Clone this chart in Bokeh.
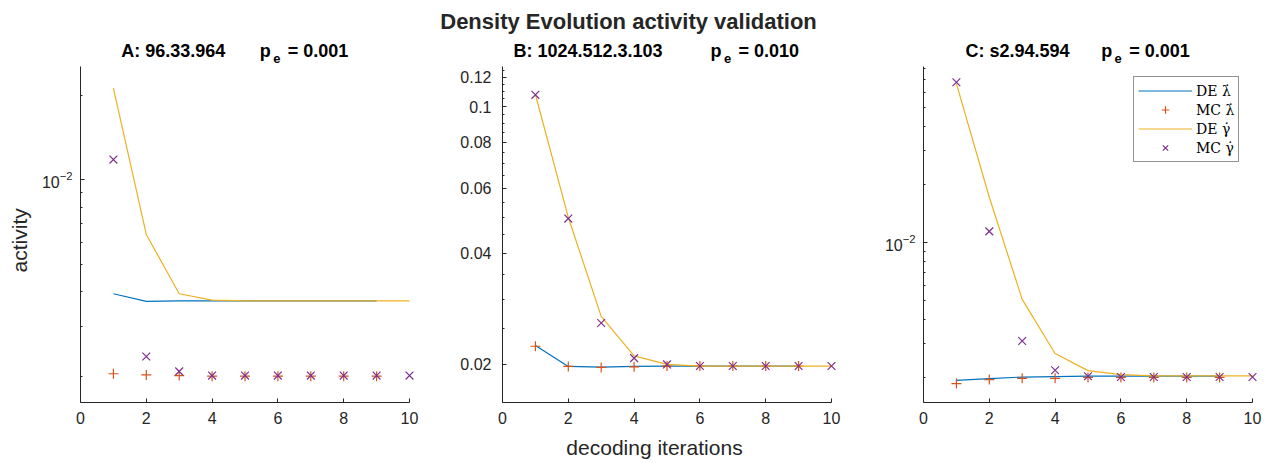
from bokeh.plotting import figure
from bokeh.models import Range1d, FixedTicker, CustomJSTickFormatter
from bokeh.core.properties import value
from bokeh.layouts import row, column
from bokeh.embed import file_html
from bokeh.resources import INLINE

# ---------------- data ----------------
iters_lam = [1, 2, 3, 4, 5, 6, 7, 8, 9]
iters_gam = [1, 2, 3, 4, 5, 6, 7, 8, 9, 10]

# Panel A: 96.33.964, p_e = 0.001
de_lam_A = [0.00393, 0.00369, 0.00371, 0.00371, 0.00371, 0.00371, 0.00371, 0.00371, 0.00371]
mc_lam_A = [0.00204, 0.00202, 0.00201, 0.00200, 0.00200, 0.00200, 0.00200, 0.00200, 0.00200]
de_gam_A = [0.0212, 0.00639, 0.00393, 0.00373, 0.00371, 0.00371, 0.00371, 0.00371, 0.00371, 0.00371]
mc_gam_A = [0.0118, 0.00235, 0.00208, 0.00201, 0.00201, 0.00201, 0.00201, 0.00201, 0.00201, 0.00201]

# Panel B: 1024.512.3.103, p_e = 0.010
de_lam_B = [0.0225, 0.01975, 0.01967, 0.01975, 0.0198, 0.0198, 0.0198, 0.0198, 0.0198]
mc_lam_B = [0.0224, 0.01975, 0.01963, 0.0197, 0.0198, 0.0198, 0.0198, 0.0198, 0.0198]
de_gam_B = [0.1078, 0.0501, 0.0270, 0.0211, 0.0200, 0.0198, 0.0198, 0.0198, 0.0198, 0.0198]
mc_gam_B = [0.1076, 0.0497, 0.0259, 0.0208, 0.0200, 0.0198, 0.0198, 0.0198, 0.0198, 0.0198]

# Panel C: s2.94.594, p_e = 0.001
de_lam_C = [0.00193, 0.00197, 0.00201, 0.00202, 0.00203, 0.00203, 0.00203, 0.00203, 0.00203]
mc_lam_C = [0.00186, 0.00195, 0.00198, 0.00198, 0.00200, 0.00200, 0.00200, 0.00200, 0.00200]
de_gam_C = [0.0667, 0.0172, 0.00508, 0.00266, 0.00217, 0.00207, 0.00204, 0.00204, 0.00204, 0.00204]
mc_gam_C = [0.0679, 0.01144, 0.00309, 0.00218, 0.00203, 0.00201, 0.00201, 0.00201, 0.00201, 0.00201]

x_ticks = [0, 2, 4, 6, 8, 10]
ticks_A = [0.01]
minor_A = [0.002, 0.003, 0.004, 0.005, 0.006, 0.007, 0.008, 0.009, 0.02]
ticks_B = [0.02, 0.04, 0.06, 0.08, 0.1, 0.12]
minor_B = [0.025, 0.03, 0.035, 0.045, 0.05, 0.055, 0.065, 0.07, 0.075, 0.085,
           0.09, 0.095, 0.105, 0.11, 0.115, 0.125]
ticks_C = [0.01]
minor_C = [0.002, 0.003, 0.004, 0.005, 0.006, 0.007, 0.008, 0.009,
           0.02, 0.03, 0.04, 0.05, 0.06, 0.07, 0.08]

main_title = "Density Evolution activity validation"
names = ["A: 96.33.964", "B: 1024.512.3.103", "C: s2.94.594"]
pe_vals = ["= 0.001", "= 0.010", "= 0.001"]
legend_labels = ["DE \u03bb\u0307", "MC \u03bb\u0307", "DE \u03b3\u0307", "MC \u03b3\u0307"]
x_label = "decoding iterations"
y_label = "activity"

# ---------------- style / layout ----------------
BLUE, ORANGE, YELLOW, PURPLE = "#0072BD", "#D95319", "#EDB120", "#7E2F8E"
AX = "#262626"
FONT = "Liberation Sans"
FRAME_W, FRAME_H = 339, 336
X_END = 10 + 10 / 32.9
HEAD_H = 66
TOTAL_W = 1266
NB = "\u00a0"


def make_fig(yr, ticks, minor, left, right, standoff):
    p = figure(output_backend="svg", toolbar_location=None, y_axis_type="log",
               x_range=Range1d(0, X_END), y_range=Range1d(*yr),
               frame_width=FRAME_W, frame_height=FRAME_H,
               min_border_left=left, min_border_right=right,
               min_border_top=0, min_border_bottom=59)
    p.outline_line_color = None
    p.grid.visible = False
    p.background_fill_color = "white"
    p.border_fill_color = "white"
    xa, ya = p.xaxis[0], p.yaxis[0]
    xa.ticker = FixedTicker(ticks=x_ticks, minor_ticks=[])
    xa.bounds = (0, 10)
    ya.ticker = FixedTicker(ticks=ticks, minor_ticks=minor)
    for a in (xa, ya):
        a.axis_line_color = AX
        a.axis_line_width = 1
        a.major_tick_line_color = AX
        a.minor_tick_line_color = AX
        a.major_tick_in = 4
        a.major_tick_out = 0
        a.minor_tick_in = 2
        a.minor_tick_out = 0
        a.major_label_text_font = FONT
        a.major_label_text_font_size = "16px"
        a.major_label_text_color = AX
        a.axis_label_text_font = FONT
        a.axis_label_text_font_size = "21px"
        a.axis_label_text_font_style = "normal"
        a.axis_label_text_color = AX
    xa.major_label_standoff = 9
    ya.major_label_standoff = standoff
    return p


def draw(p, dl, ml, dg, mg, legend=False):
    kw = (lambda i: {"legend_label": legend_labels[i]}) if legend else (lambda i: {})
    p.line(iters_lam, dl, line_color=BLUE, line_width=1.2, **kw(0))
    p.scatter(iters_lam, ml, marker="cross", size=10, line_color=ORANGE, line_width=1.2, **kw(1))
    p.line(iters_gam, dg, line_color=YELLOW, line_width=1.2, **kw(2))
    p.scatter(iters_gam, mg, marker="x", size=11, line_color=PURPLE, line_width=1.2, **kw(3))


pA = make_fig((0.001612, 0.0253), ticks_A, minor_A, 80, 20, 8)
pB = make_fig((0.01577, 0.1284), ticks_B, minor_B, 63, 20, 11)
pC = make_fig((0.001483, 0.0819), ticks_C, minor_C, 62, 4, 8)
pB.yaxis[0].formatter = CustomJSTickFormatter(code="return (Math.round(tick*1000)/1000).toString()")

draw(pA, de_lam_A, mc_lam_A, de_gam_A, mc_gam_A)
draw(pB, de_lam_B, mc_lam_B, de_gam_B, mc_gam_B)
draw(pC, de_lam_C, mc_lam_C, de_gam_C, mc_gam_C, legend=True)

pA.yaxis[0].axis_label = y_label + NB * 2
pA.yaxis[0].axis_label_standoff = 8
pB.xaxis[0].axis_label = x_label + NB * 6
pB.xaxis[0].axis_label_standoff = 9

leg = pC.legend[0]
leg.location = (210, 240)
leg.border_line_color = AX
leg.border_line_width = 1
leg.background_fill_color = "white"
leg.background_fill_alpha = 1
leg.padding = 4
leg.spacing = 0
leg.margin = 0
leg.glyph_width = 54
leg.glyph_height = 19
leg.label_height = 19
leg.label_standoff = 4
leg.label_text_font = "DejaVu Serif"
leg.label_text_font_size = "14px"
leg.label_text_color = "#000000"

# ---------------- header (titles) ----------------
head = figure(output_backend="svg", toolbar_location=None,
              x_range=Range1d(0, TOTAL_W), y_range=Range1d(0, HEAD_H),
              frame_width=TOTAL_W, frame_height=HEAD_H,
              min_border=0, x_axis_location=None, y_axis_location=None)
head.outline_line_color = None
head.grid.visible = False
head.background_fill_color = "white"
head.border_fill_color = "white"

# main title
head.text(x=[628], y=[HEAD_H - 20.5], text=[main_title], text_font=value(FONT),
          text_font_size="22px", text_font_style="bold", text_color="#262626",
          text_align="center", text_baseline="alphabetic")

name_x = [120.7, 513.0, 965.0]
p_x = [259.3, 710.0, 1100.7]
head.text(x=name_x, y=[HEAD_H - 50] * 3, text=names, text_font=value(FONT),
          text_font_size="18px", text_font_style="bold", text_color="#000000",
          text_align="left", text_baseline="alphabetic")
head.text(x=p_x, y=[HEAD_H - 50] * 3, text=["p"] * 3, text_font=value(FONT),
          text_font_size="18px", text_font_style="bold", text_color="#000000",
          text_align="left", text_baseline="alphabetic")
head.text(x=[v + 13.4 for v in p_x], y=[HEAD_H - 58] * 3, text=["e"] * 3, text_font=value(FONT),
          text_font_size="13px", text_font_style="bold", text_color="#000000",
          text_align="left", text_baseline="alphabetic")
head.text(x=[v + 28.0 for v in p_x], y=[HEAD_H - 50] * 3, text=pe_vals, text_font=value(FONT),
          text_font_size="18px", text_font_style="bold", text_color="#000000",
          text_align="left", text_baseline="alphabetic")

layout = column(head, row(pA, pB, pC))
open("out.html", "w").write(file_html(layout, INLINE))
